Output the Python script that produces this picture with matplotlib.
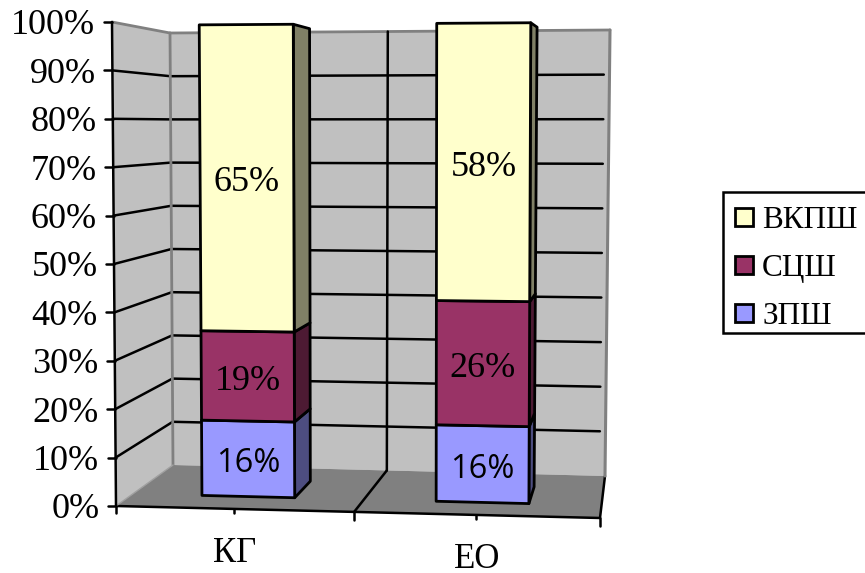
import numpy as np
import matplotlib
matplotlib.use('Agg')
import matplotlib.pyplot as plt
from matplotlib.patches import Polygon, Rectangle

SERIF = 'Liberation Serif'
SANS = 'Open Sans'

categories = ['КГ', 'ЕО']
series_names = ['ЗПШ', 'СЦШ', 'ВКПШ']
zpsh = [16, 16]
scsh = [19, 26]
vkpsh = [65, 58]
series_values = [zpsh, scsh, vkpsh]
pct_ticks = [0, 10, 20, 30, 40, 50, 60, 70, 80, 90, 100]

face_colors = ['#9999FF', '#993366', '#FFFFCC']
side_colors = ['#4D4D80', '#4D1A33', '#808066']
# the lowest segment's labels use a sans face, the rest are serif
label_fonts = [SANS, SERIF, SERIF]
label_sizes = [23.5, 26, 26]

# box corners in pixels: (across, depth, height)
corners = {
    (0, 0, 0): (116, 506), (1, 0, 0): (600, 518),
    (0, 1, 0): (173, 465), (1, 1, 0): (605, 476),
    (0, 0, 1): (112, 22), (1, 0, 1): (602, 19),
    (0, 1, 1): (170, 33), (1, 1, 1): (610, 30),
}


def project(u, d, pct):
    # trilinear map from chart box to figure pixels
    w = pct / 100
    p = np.zeros(2)
    for (a, b, c), xy in corners.items():
        p += np.array(xy) * (u if a else 1 - u) * (d if b else 1 - d) * (w if c else 1 - w)
    return p


def line(ax, a, b, color='black', lw=1.8, z=2):
    ax.plot([a[0], b[0]], [a[1], b[1]], color=color, lw=lw, zorder=z, solid_capstyle='round')


fig = plt.figure(figsize=(8.65, 5.73), dpi=100)
ax = fig.add_axes([0, 0, 1, 1])
ax.set_xlim(0, 865)
ax.set_ylim(573, 0)
ax.axis('off')

# walls and floor
wall = '#C0C0C0'
edge = '#808080'
ax.add_patch(Polygon([project(0, 0, 0), project(0, 0, 100), project(0, 1, 100), project(0, 1, 0)],
                     fc=wall, ec='none', zorder=1))
ax.add_patch(Polygon([project(0, 1, 0), project(0, 1, 100), project(1, 1, 100), project(1, 1, 0)],
                     fc=wall, ec='none', zorder=1))
ax.add_patch(Polygon([project(0, 0, 0), project(1, 0, 0), project(1, 1, 0), project(0, 1, 0)],
                     fc=edge, ec='none', zorder=1.5))

# gridlines on the walls
for p in pct_ticks[1:-1]:
    line(ax, project(0, 0, p), project(0, 1, p))
    line(ax, project(0, 1, p), project(0.987, 1, p))
line(ax, project(0, 0, 100), project(0, 1, 100), edge, lw=2)
line(ax, project(0, 1, 100), project(1, 1, 100), edge, lw=2)
line(ax, project(0, 1, 0), project(0, 1, 100), edge, lw=2)
line(ax, project(1, 1, 0), project(1, 1, 100), edge, lw=2.2)
line(ax, project(0.495, 1, 0), project(0.495, 1, 100), 'black', lw=1.8)
line(ax, project(0, 0, 0), project(0, 1, 0), '#A0A0A0', lw=1)

# floor outline and axes
line(ax, project(0, 0, 0), project(1, 0, 0), z=1.8)
line(ax, project(1, 0, 0), project(1, 1, 0), z=1.8)
line(ax, project(0.492, 0, 0), project(0.495, 1, 0), z=1.8)
line(ax, project(0, 0, 0), project(0, 0, 100), z=2.5)

for p in pct_ticks:
    x, y = project(0, 0, p)
    line(ax, (x - 8, y), (x, y), z=2.5)
    ax.text(x - 16.5, y, f'{p}%', ha='right', va='center_baseline',
            family=SERIF, fontsize=26, color='black')

for u, tick_len in zip([0, 0.244, 0.492, 0.744, 1], [7, 4, 8, 4, 8]):
    x, y = project(u, 0, 0)
    line(ax, (x, y), (x, y + tick_len), z=2.5)

# stacked bars
half_width = 0.099
shift = -0.004
depth_front, depth_back = 0.3, 0.7
for i, cat in enumerate(categories):
    uc = (i + 0.5) / len(categories) + shift
    u0, u1 = uc - half_width, uc + half_width
    base = 0
    for s, vals in enumerate(series_values):
        top = base + vals[i]
        ax.add_patch(Polygon([project(u1, depth_front, base), project(u1, depth_back, base),
                              project(u1, depth_back, top), project(u1, depth_front, top)],
                             fc=side_colors[s], ec='black', lw=2, joinstyle='round', zorder=3))
        ax.add_patch(Polygon([project(u0, depth_front, base), project(u1, depth_front, base),
                              project(u1, depth_front, top), project(u0, depth_front, top)],
                             fc=face_colors[s], ec='black', lw=2, joinstyle='round', zorder=3.2))
        cx, cy = project(uc, depth_front, base + vals[i] / 2)
        ax.text(cx, cy + 1, f'{vals[i]}%', ha='center', va='center_baseline',
                family=label_fonts[s], fontsize=label_sizes[s], color='black', zorder=4)
        base = top
    x, y = project(uc, 0, 0)
    ax.text(x, y + 53, cat, ha='center', va='baseline', family=SERIF, fontsize=25)

# legend, its frame runs off the right side
ax.add_patch(Rectangle((723, 192), 160, 141, fc='white', ec='black', lw=1.8, zorder=5))
for name, col, yc in zip(series_names, face_colors, [313, 265, 217]):
    ax.add_patch(Rectangle((735, yc - 9), 18, 18, fc=col, ec='black', lw=2, zorder=6))
    ax.text(762, yc, name, ha='left', va='center_baseline', family=SERIF, fontsize=22.5, zorder=6)

fig.savefig('out.png', dpi=100)
